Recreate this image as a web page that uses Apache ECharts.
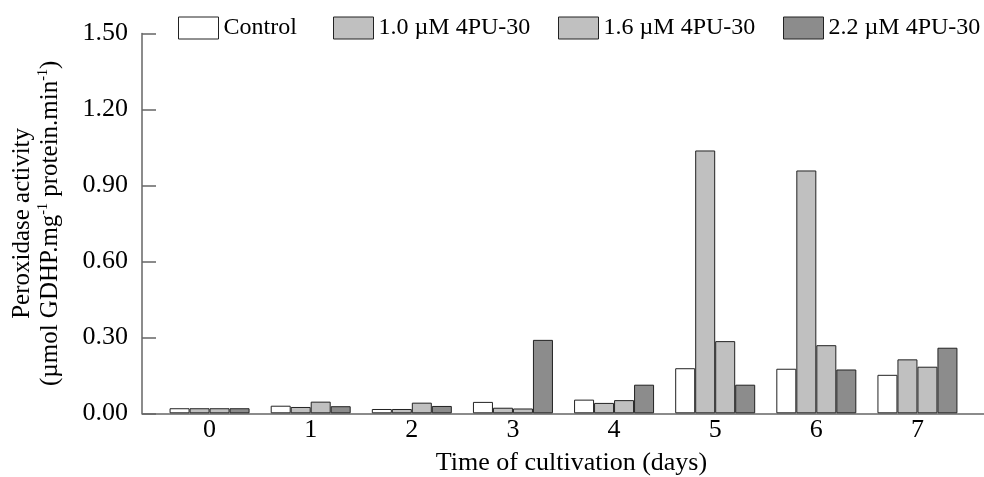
<!DOCTYPE html>
<html>
<head>
<meta charset="utf-8">
<script src="https://cdn.jsdelivr.net/npm/echarts@6/dist/echarts.min.js"></script>
<style>
  html, body { margin: 0; padding: 0; background: #fff; }
  #main { width: 984px; height: 477px; }
</style>
</head>
<body>
<div id="main"></div>
<script>
// 天数
var days = ['0', '1', '2', '3', '4', '5', '6', '7'];
var seriesNames = ['Control', '1.0 \u00b5M 4PU-30', '1.6 \u00b5M 4PU-30', '2.2 \u00b5M 4PU-30'];
var control = [0.020, 0.030, 0.017, 0.045, 0.054, 0.178, 0.176, 0.152];
var pu10 = [0.020, 0.025, 0.017, 0.022, 0.041, 1.038, 0.959, 0.213];
var pu16 = [0.020, 0.046, 0.042, 0.019, 0.052, 0.285, 0.269, 0.184];
var pu22 = [0.020, 0.028, 0.029, 0.290, 0.113, 0.113, 0.173, 0.259];
var yTicks = [0.00, 0.30, 0.60, 0.90, 1.20, 1.50];

var font = 'Liberation Serif';
var colors = ['#ffffff', '#c0c0c0', '#c0c0c0', '#8c8c8c'];
var legendLeft = [178, 333, 558, 783];

var myChart = echarts.init(document.getElementById('main'), null, {renderer: 'canvas'});

const makeSeries = (data, i) => ({
    name: seriesNames[i],
    type: 'bar',
    xAxisIndex: 0,
    yAxisIndex: 0,
    barWidth: 20,
    barGap: '0%',
    itemStyle: {color: colors[i], borderColor: '#222', borderWidth: 1},
    data: data
})

myChart.setOption({
    animation: false,
    textStyle: {fontFamily: font, color: '#000'},
    legend: seriesNames.map((n, i) => ({
        data: [n],
        left: legendLeft[i],
        top: 16,
        icon: 'rect',
        itemWidth: 40,
        itemHeight: 22,
        itemGap: 0,
        padding: 0,
        itemStyle: {borderColor: '#222', borderWidth: 1},
        textStyle: {fontFamily: font, fontSize: 24, color: '#000', padding: [8, 0, 0, 0]}
    })),
    grid: [
        // 柱子所在的区域
        {left: 159, right: 16, top: 33.5, bottom: 63.7, outerBoundsMode: 'none'},
        // 坐标轴线
        {left: 142, right: 0, top: 33.5, bottom: 63.7, outerBoundsMode: 'none'}
    ],
    xAxis: [
        {
            type: 'category',
            gridIndex: 0,
            data: days,
            axisLine: {show: false},
            axisTick: {show: false},
            axisLabel: {fontFamily: font, fontSize: 26, color: '#000', margin: 4},
            name: 'Time of cultivation (days)',
            nameLocation: 'middle',
            nameGap: 37,
            nameTextStyle: {fontFamily: font, fontSize: 26, color: '#000', padding: [0, 0, 0, 16]}
        },
        {
            type: 'value',
            gridIndex: 1,
            min: 0,
            max: 1,
            axisLine: {show: true, lineStyle: {color: '#666', width: 1.5}},
            axisTick: {show: false},
            axisLabel: {show: false},
            splitLine: {show: false}
        }
    ],
    yAxis: [
        {
            type: 'value',
            gridIndex: 0,
            min: yTicks[0],
            max: yTicks[yTicks.length - 1],
            interval: 0.3,
            show: false
        },
        {
            type: 'value',
            gridIndex: 1,
            min: yTicks[0],
            max: yTicks[yTicks.length - 1],
            interval: 0.3,
            axisLine: {show: true, lineStyle: {color: '#666', width: 1.5}},
            axisTick: {show: true, inside: true, length: 14, lineStyle: {color: '#666', width: 1.5}},
            axisLabel: {
                fontFamily: font, fontSize: 26, color: '#000', margin: 14,
                formatter: v => v.toFixed(2)
            },
            splitLine: {show: false},
            name: 'Peroxidase activity\n(\u00b5mol GDHP.mg{sup|-1} protein.min{sup|-1})',
            nameLocation: 'middle',
            nameRotate: 90,
            nameGap: 78,
            nameTextStyle: {
                fontFamily: font, fontSize: 25, color: '#000', lineHeight: 28, align: 'center',
                rich: {
                    sup: {fontFamily: font, fontSize: 14, verticalAlign: 'top', lineHeight: 28, padding: [0, 0, 10, 0]}
                }
            }
        }
    ],
    series: [control, pu10, pu16, pu22].map(makeSeries)
});
</script>
</body>
</html>
